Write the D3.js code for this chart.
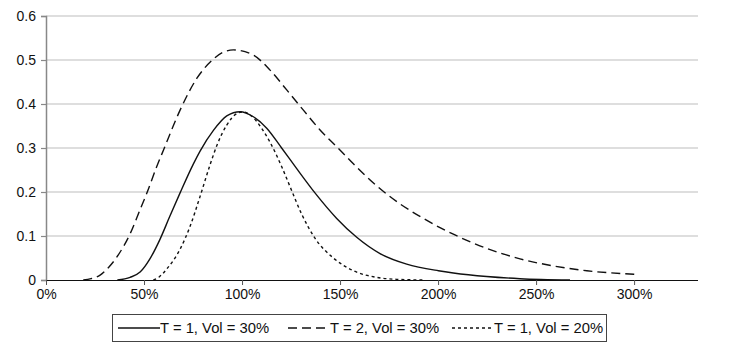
<!DOCTYPE html>
<html>
<head>
<meta charset="utf-8">
<script src="https://cdn.jsdelivr.net/npm/d3@7"></script>
<style>
  body { margin: 0; background: #fff; }
  text { font-family: "Liberation Sans", Arial, Helvetica, sans-serif; }
</style>
</head>
<body>
<svg id="chart" width="740" height="350"></svg>
<script>
// ---- Data (x in % of spot, y = density) ----
const seriesNames = ["T = 1, Vol = 30%", "T = 2, Vol = 30%", "T = 1, Vol = 20%"];

const t1v30X = [36.4, 42.9, 48, 53, 58.2, 63, 68.4, 75.2, 78.6, 85.4, 92.2, 99, 105.8, 112.6, 120.2, 127.9, 137.2, 148.3, 158.5, 170.4, 184, 200.2, 207.8, 224.8, 241.8, 267.3];
const t1v30Y = [0, 0.006, 0.018, 0.048, 0.093, 0.143, 0.198, 0.264, 0.293, 0.340, 0.373, 0.3825, 0.371, 0.345, 0.300, 0.253, 0.198, 0.140, 0.097, 0.060, 0.036, 0.021, 0.016, 0.008, 0.003, 0];

const t2v30X = [19, 23, 27.6, 31.8, 36.1, 42.9, 48, 51.4, 56.5, 59.9, 68.4, 76.9, 85.4, 90, 95.6, 105.8, 114.3, 122.8, 131.3, 139.8, 149.2, 156.8, 168.7, 180.6, 192.5, 201, 207.8, 224.8, 241.8, 258.8, 275.9, 300.5];
const t2v30Y = [0, 0.003, 0.011, 0.028, 0.052, 0.105, 0.160, 0.197, 0.258, 0.295, 0.386, 0.458, 0.502, 0.517, 0.523, 0.511, 0.477, 0.432, 0.386, 0.341, 0.299, 0.264, 0.214, 0.173, 0.140, 0.119, 0.104, 0.072, 0.048, 0.032, 0.021, 0.013];

const t1v20X = [54.8, 58, 61.6, 68.4, 73.5, 78.6, 83.7, 87.1, 92.2, 97.3, 100.7, 105, 110, 114.3, 120.2, 124.5, 130.4, 137.2, 146.6, 156.8, 168.7, 178.9, 192.5];
const t1v20Y = [0, 0.008, 0.025, 0.070, 0.122, 0.190, 0.262, 0.305, 0.352, 0.378, 0.382, 0.372, 0.345, 0.313, 0.258, 0.212, 0.150, 0.095, 0.050, 0.021, 0.006, 0.0015, 0];

const xTicks = [0, 50, 100, 150, 200, 250, 300];
const yTicks = [0, 0.1, 0.2, 0.3, 0.4, 0.5, 0.6];

// ---- Layout ----
const svg = d3.select("#chart");
const mLeft = 46, mRight = 698, mTop = 16, mBottom = 280;
const x = d3.scaleLinear().domain([0, 332.6]).range([mLeft, mRight]);
const y = d3.scaleLinear().domain([0, 0.6]).range([mBottom, mTop]);

// gridlines
svg.append("g").selectAll("line").data(yTicks.filter(d => d > 0)).join("line")
  .attr("x1", mLeft).attr("x2", mRight)
  .attr("y1", d => y(d)).attr("y2", d => y(d))
  .attr("stroke", "#d3d3d3").attr("stroke-width", 1.5);

// y axis
const yAxis = svg.append("g").attr("transform", `translate(${mLeft},0)`)
  .call(d3.axisLeft(y).tickValues(yTicks).tickSize(5).tickPadding(5).tickFormat(d => d === 0 ? "0" : d3.format(".1f")(d)));
yAxis.select(".domain").attr("stroke", "#888").attr("stroke-width", 1.5);
yAxis.selectAll(".tick line").attr("stroke", "#888").attr("stroke-width", 1.2);
yAxis.selectAll("text").attr("font-size", 14).attr("fill", "#111");

// x axis
const xAxis = svg.append("g").attr("transform", `translate(0,${mBottom})`)
  .call(d3.axisBottom(x).tickValues(xTicks).tickSize(5).tickPadding(4).tickFormat(d => d + "%"));
xAxis.select(".domain").attr("stroke", "#111").attr("stroke-width", 1.2).attr("d", `M${mLeft},0.5H${mRight}`);
xAxis.selectAll(".tick line").attr("stroke", "#555").attr("stroke-width", 1);
xAxis.selectAll("text").attr("font-size", 14).attr("fill", "#111");

// curves
const series = [
  { xs: t1v30X, ys: t1v30Y, dash: null },
  { xs: t2v30X, ys: t2v30Y, dash: "9,5" },
  { xs: t1v20X, ys: t1v20Y, dash: "3,3" }
];
const line = d3.line().x(d => x(d[0])).y(d => y(d[1])).curve(d3.curveMonotoneX);
series.forEach(s => {
  svg.append("path")
    .datum(s.xs.map((v, i) => [v, s.ys[i]]))
    .attr("fill", "none").attr("stroke", "#111").attr("stroke-width", 1.4)
    .attr("stroke-dasharray", s.dash)
    .attr("d", line);
});

// legend
const lg = svg.append("g");
lg.append("rect").attr("x", 112.5).attr("y", 314.5).attr("width", 494).attr("height", 27)
  .attr("fill", "#fff").attr("stroke", "#444").attr("stroke-width", 1);
const legendX = [118, 288, 452];
series.forEach((s, i) => {
  lg.append("line").attr("x1", legendX[i]).attr("x2", legendX[i] + 42)
    .attr("y1", 328).attr("y2", 328)
    .attr("stroke", "#111").attr("stroke-width", 1.4).attr("stroke-dasharray", s.dash);
  lg.append("text").attr("x", legendX[i] + 42).attr("y", 333)
    .attr("font-size", 14.8).attr("fill", "#111").text(seriesNames[i]);
});
</script>
</body>
</html>
